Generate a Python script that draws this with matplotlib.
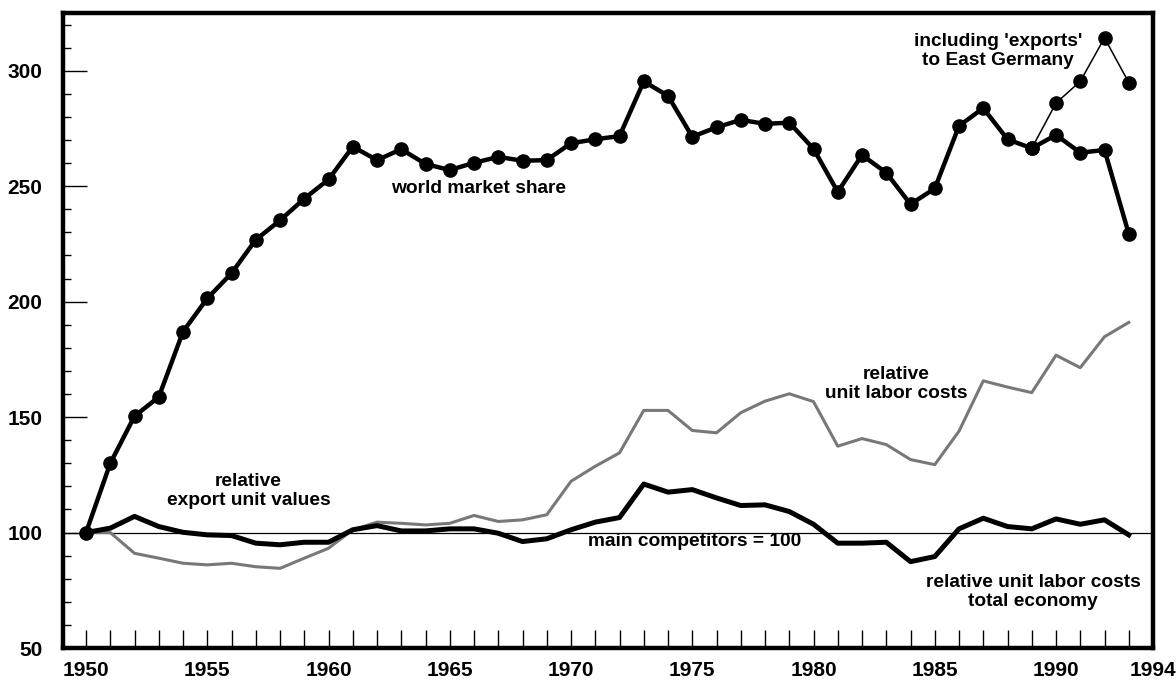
import matplotlib.pyplot as plt
import numpy as np

plt.rcParams['font.family'] = ['Liberation Sans', 'DejaVu Sans']

years = np.arange(1950, 1994)

world_share = [100, 130, 150.4, 158.7, 187, 201.4, 212.3, 226.8, 235.2, 244.6,
               252.9, 267.1, 261.3, 266, 259.6, 257, 260.1, 262.7, 261, 261.3,
               268.6, 270.3, 271.7, 295.4, 289.1, 271.4, 275.5, 278.7, 277, 277.5,
               266.2, 247.5, 263.5, 255.8, 242.2, 249, 276.1, 283.8, 270.3, 266.4,
               272.2, 264.5, 265.7, 229.4]

east_years = [1989, 1990, 1991, 1992, 1993]
east_share = [266.4, 286, 295.4, 314.2, 294.9]

export_unit_values = [100, 101.9, 107, 102.6, 100.1, 99, 98.7, 95.4, 94.7, 95.8,
                      95.8, 101.2, 103, 100.7, 100.7, 101.6, 101.6, 99.7, 96.1, 97.3,
                      101.2, 104.5, 106.5, 121, 117.5, 118.6, 115, 111.7, 112, 109.1,
                      103.6, 95.4, 95.4, 95.8, 87.4, 89.6, 101.6, 106.2, 102.6, 101.6,
                      105.9, 103.6, 105.5, 99]

unit_labor_costs = [100, 100, 91, 88.9, 86.7, 86, 86.7, 85.2, 84.5, 88.9,
                    93.2, 101.2, 104.5, 104, 103.3, 104, 107.4, 104.8, 105.5, 107.7,
                    122.2, 128.7, 134.5, 152.9, 152.9, 144.2, 143.2, 151.9, 156.9, 160.1,
                    156.7, 137.4, 140.7, 138.1, 131.6, 129.4, 143.9, 165.7, 163, 160.6,
                    176.8, 171.4, 184.8, 191]

xtick_labels = {1950: '1950', 1955: '1955', 1960: '1960', 1965: '1965', 1970: '1970',
                1975: '1975', 1980: '1980', 1985: '1985', 1990: '1990', 1994: '1994'}

fig = plt.figure(figsize=(11.76, 6.81), dpi=100)
ax = fig.add_axes([63 / 1176, 33 / 681, (1153 - 63) / 1176, (668 - 33) / 681])

ax.axhline(100, color='black', lw=0.9, zorder=1)
ax.plot(years, unit_labor_costs, color='#787878', lw=2.2, zorder=2)
ax.plot(years, export_unit_values, color='black', lw=3.6, zorder=3)
ax.plot(east_years, east_share, color='black', lw=1.1, marker='o', ms=9.5, zorder=4)
ax.plot(years, world_share, color='black', lw=3.2, marker='o', ms=9.5, zorder=5)

ax.set_xlim(1949.05, 1994)
ax.set_ylim(50, 325)

all_years = np.arange(1950, 1995)
ax.set_xticks(all_years)
ax.set_xticklabels([xtick_labels.get(y, '') for y in all_years])
ax.set_yticks([50, 100, 150, 200, 250, 300])
ax.set_yticks(np.arange(60, 330, 10), minor=True)

ax.tick_params(axis='x', direction='in', length=13, width=1, pad=9)
ax.tick_params(axis='y', which='major', direction='in', length=17, width=1, pad=15)
ax.tick_params(axis='y', which='minor', direction='in', length=6, width=1)
for lab in ax.get_xticklabels() + ax.get_yticklabels():
    lab.set_fontsize(15)
    lab.set_fontweight('bold')

for sp in ax.spines.values():
    sp.set_linewidth(3.2)

txt = dict(fontsize=13.8, fontweight='bold', ha='center', va='center', linespacing=1.15)
ax.text(1966.2, 249.1, 'world market share', **txt)
ax.text(1987.6, 308.7, "including 'exports'\nto East Germany", **txt)
ax.text(1956.7, 117.8, 'relative\nexport unit values', **txt)
ax.text(1975.1, 96, 'main competitors = 100', **txt)
ax.text(1983.4, 164.3, 'relative\nunit labor costs', **txt)
ax.text(1989.05, 74.3, 'relative unit labor costs\ntotal economy', **txt)

fig.savefig('out.png', dpi=100)
